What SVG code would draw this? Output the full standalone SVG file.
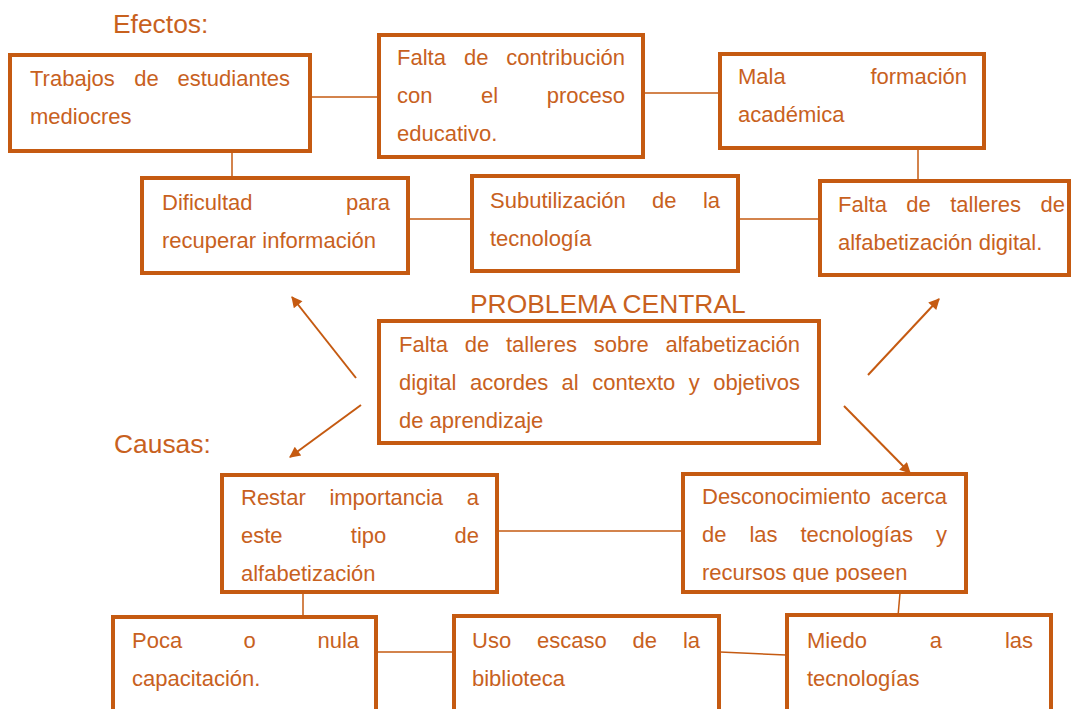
<svg xmlns="http://www.w3.org/2000/svg" width="1073" height="709" viewBox="0 0 1073 709">
<style>
.box{fill:#fff;stroke:#C55A11;stroke-width:4}
.t{font-family:"Liberation Sans",Arial,sans-serif;font-size:22px;fill:#C8611E}
.h{font-family:"Liberation Sans",Arial,sans-serif;font-size:26.4px;fill:#C8611E}
.e{text-anchor:end}
.c{stroke:#C55A11;stroke-width:1.5;fill:none}
.a{stroke:#C55A11;stroke-width:2;fill:none;marker-end:url(#ah)}
</style>
<defs>
<marker id="ah" viewBox="0 0 10 10" refX="9" refY="5" markerWidth="13" markerHeight="11" markerUnits="userSpaceOnUse" orient="auto">
<path d="M0,0 L10,5 L0,10 z" fill="#C55A11"/>
</marker>
<clipPath id="clipD"><rect x="680" y="470" width="290" height="112"/></clipPath>
</defs>
<rect width="1073" height="709" fill="#fff"/>

<g id="connectors">
<line class="c" x1="311" y1="97" x2="378" y2="97"/>
<line class="c" x1="645" y1="93" x2="718" y2="93"/>
<line class="c" x1="232" y1="153" x2="232" y2="178"/>
<line class="c" x1="918" y1="150" x2="918" y2="180"/>
<line class="c" x1="410" y1="219" x2="472" y2="219"/>
<line class="c" x1="738" y1="219" x2="818" y2="219"/>
<line class="c" x1="499" y1="531" x2="682" y2="531"/>
<line class="c" x1="303" y1="593" x2="303" y2="616"/>
<line class="c" x1="900" y1="593" x2="898" y2="616"/>
<line class="c" x1="377" y1="652" x2="453" y2="652"/>
<line class="c" x1="720" y1="652" x2="786" y2="655"/>
<line class="a" x1="356" y1="378" x2="292" y2="297"/>
<line class="a" x1="361" y1="405" x2="290" y2="457"/>
<line class="a" x1="868" y1="375" x2="939" y2="299"/>
<line class="a" x1="844" y1="406" x2="910" y2="473"/>
</g>

<text class="h" x="113" y="33">Efectos:</text>
<text class="h" x="470" y="313">PROBLEMA CENTRAL</text>
<text class="h" x="114" y="453">Causas:</text>

<g id="n1">
<rect class="box" x="10" y="55" width="300" height="96"/>
<text class="t" y="86"><tspan x="30">Trabajos</tspan><tspan x="134.3">de</tspan></text>
<text class="t e" x="290" y="86">estudiantes</text>
<text class="t" x="30" y="124">mediocres</text>
</g>

<g id="n2">
<rect class="box" x="379" y="35" width="264" height="122"/>
<text class="t" y="65"><tspan x="397">Falta</tspan><tspan x="463.9">de</tspan></text>
<text class="t e" x="625" y="65">contribución</text>
<text class="t" y="103"><tspan x="397">con</tspan><tspan x="481.1">el</tspan></text>
<text class="t e" x="625" y="103">proceso</text>
<text class="t" x="397" y="141">educativo.</text>
</g>

<g id="n3">
<rect class="box" x="720" y="54" width="264" height="94"/>
<text class="t" x="738" y="84">Mala</text>
<text class="t e" x="967" y="84">formación</text>
<text class="t" x="738" y="122">académica</text>
</g>

<g id="n4">
<rect class="box" x="142" y="178" width="266" height="95"/>
<text class="t" x="162" y="210">Dificultad</text>
<text class="t e" x="390" y="210">para</text>
<text class="t" x="162" y="248">recuperar información</text>
</g>

<g id="n5">
<rect class="box" x="472" y="176" width="266" height="95"/>
<text class="t" y="208"><tspan x="490">Subutilización</tspan><tspan x="652.1">de</tspan></text>
<text class="t e" x="720" y="208">la</text>
<text class="t" x="490" y="246">tecnología</text>
</g>

<g id="n6">
<rect class="box" x="820" y="181" width="249" height="94"/>
<text class="t" y="212"><tspan x="838">Falta</tspan><tspan x="906.3">de</tspan><tspan x="950.2">talleres</tspan></text>
<text class="t e" x="1065" y="212">de</text>
<text class="t" x="838" y="250">alfabetización digital.</text>
</g>

<g id="central">
<rect class="box" x="379" y="321" width="440" height="122"/>
<text class="t" y="352"><tspan x="399">Falta</tspan><tspan x="464.7">de</tspan><tspan x="506">talleres</tspan><tspan x="593.8">sobre</tspan></text>
<text class="t e" x="800" y="352">alfabetización</text>
<text class="t" y="390"><tspan x="399">digital</tspan><tspan x="469.9">acordes</tspan><tspan x="561.6">al</tspan><tspan x="592.2">contexto</tspan><tspan x="688.8">y</tspan></text>
<text class="t e" x="800" y="390">objetivos</text>
<text class="t" x="399" y="428">de aprendizaje</text>
</g>

<g id="c1">
<rect class="box" x="222" y="475" width="275" height="117"/>
<text class="t" y="505"><tspan x="241">Restar</tspan><tspan x="329.4">importancia</tspan></text>
<text class="t e" x="479" y="505">a</text>
<text class="t" y="543"><tspan x="241">este</tspan><tspan x="350.8">tipo</tspan></text>
<text class="t e" x="479" y="543">de</text>
<text class="t" x="241" y="581">alfabetización</text>
</g>

<g id="c2">
<rect class="box" x="683" y="474" width="283" height="118"/>
<text class="t" x="702" y="504">Desconocimiento</text>
<text class="t e" x="947" y="504">acerca</text>
<text class="t" y="542"><tspan x="702">de</tspan><tspan x="749.4">las</tspan><tspan x="800.5">tecnologías</tspan></text>
<text class="t e" x="947" y="542">y</text>
<text class="t" x="702" y="580" clip-path="url(#clipD)">recursos que poseen</text>
</g>

<g id="c3">
<rect class="box" x="113" y="617" width="263" height="110"/>
<text class="t" y="648"><tspan x="132">Poca</tspan><tspan x="243.6">o</tspan></text>
<text class="t e" x="359" y="648">nula</text>
<text class="t" x="132" y="686">capacitación.</text>
</g>

<g id="c4">
<rect class="box" x="454" y="616" width="265" height="110"/>
<text class="t" y="648"><tspan x="472">Uso</tspan><tspan x="537">escaso</tspan><tspan x="632.6">de</tspan></text>
<text class="t e" x="700" y="648">la</text>
<text class="t" x="472" y="686">biblioteca</text>
</g>

<g id="c5">
<rect class="box" x="787" y="615" width="264" height="110"/>
<text class="t" y="648"><tspan x="807">Miedo</tspan><tspan x="929.8">a</tspan></text>
<text class="t e" x="1033" y="648">las</text>
<text class="t" x="807" y="686">tecnologías</text>
</g>
</svg>
